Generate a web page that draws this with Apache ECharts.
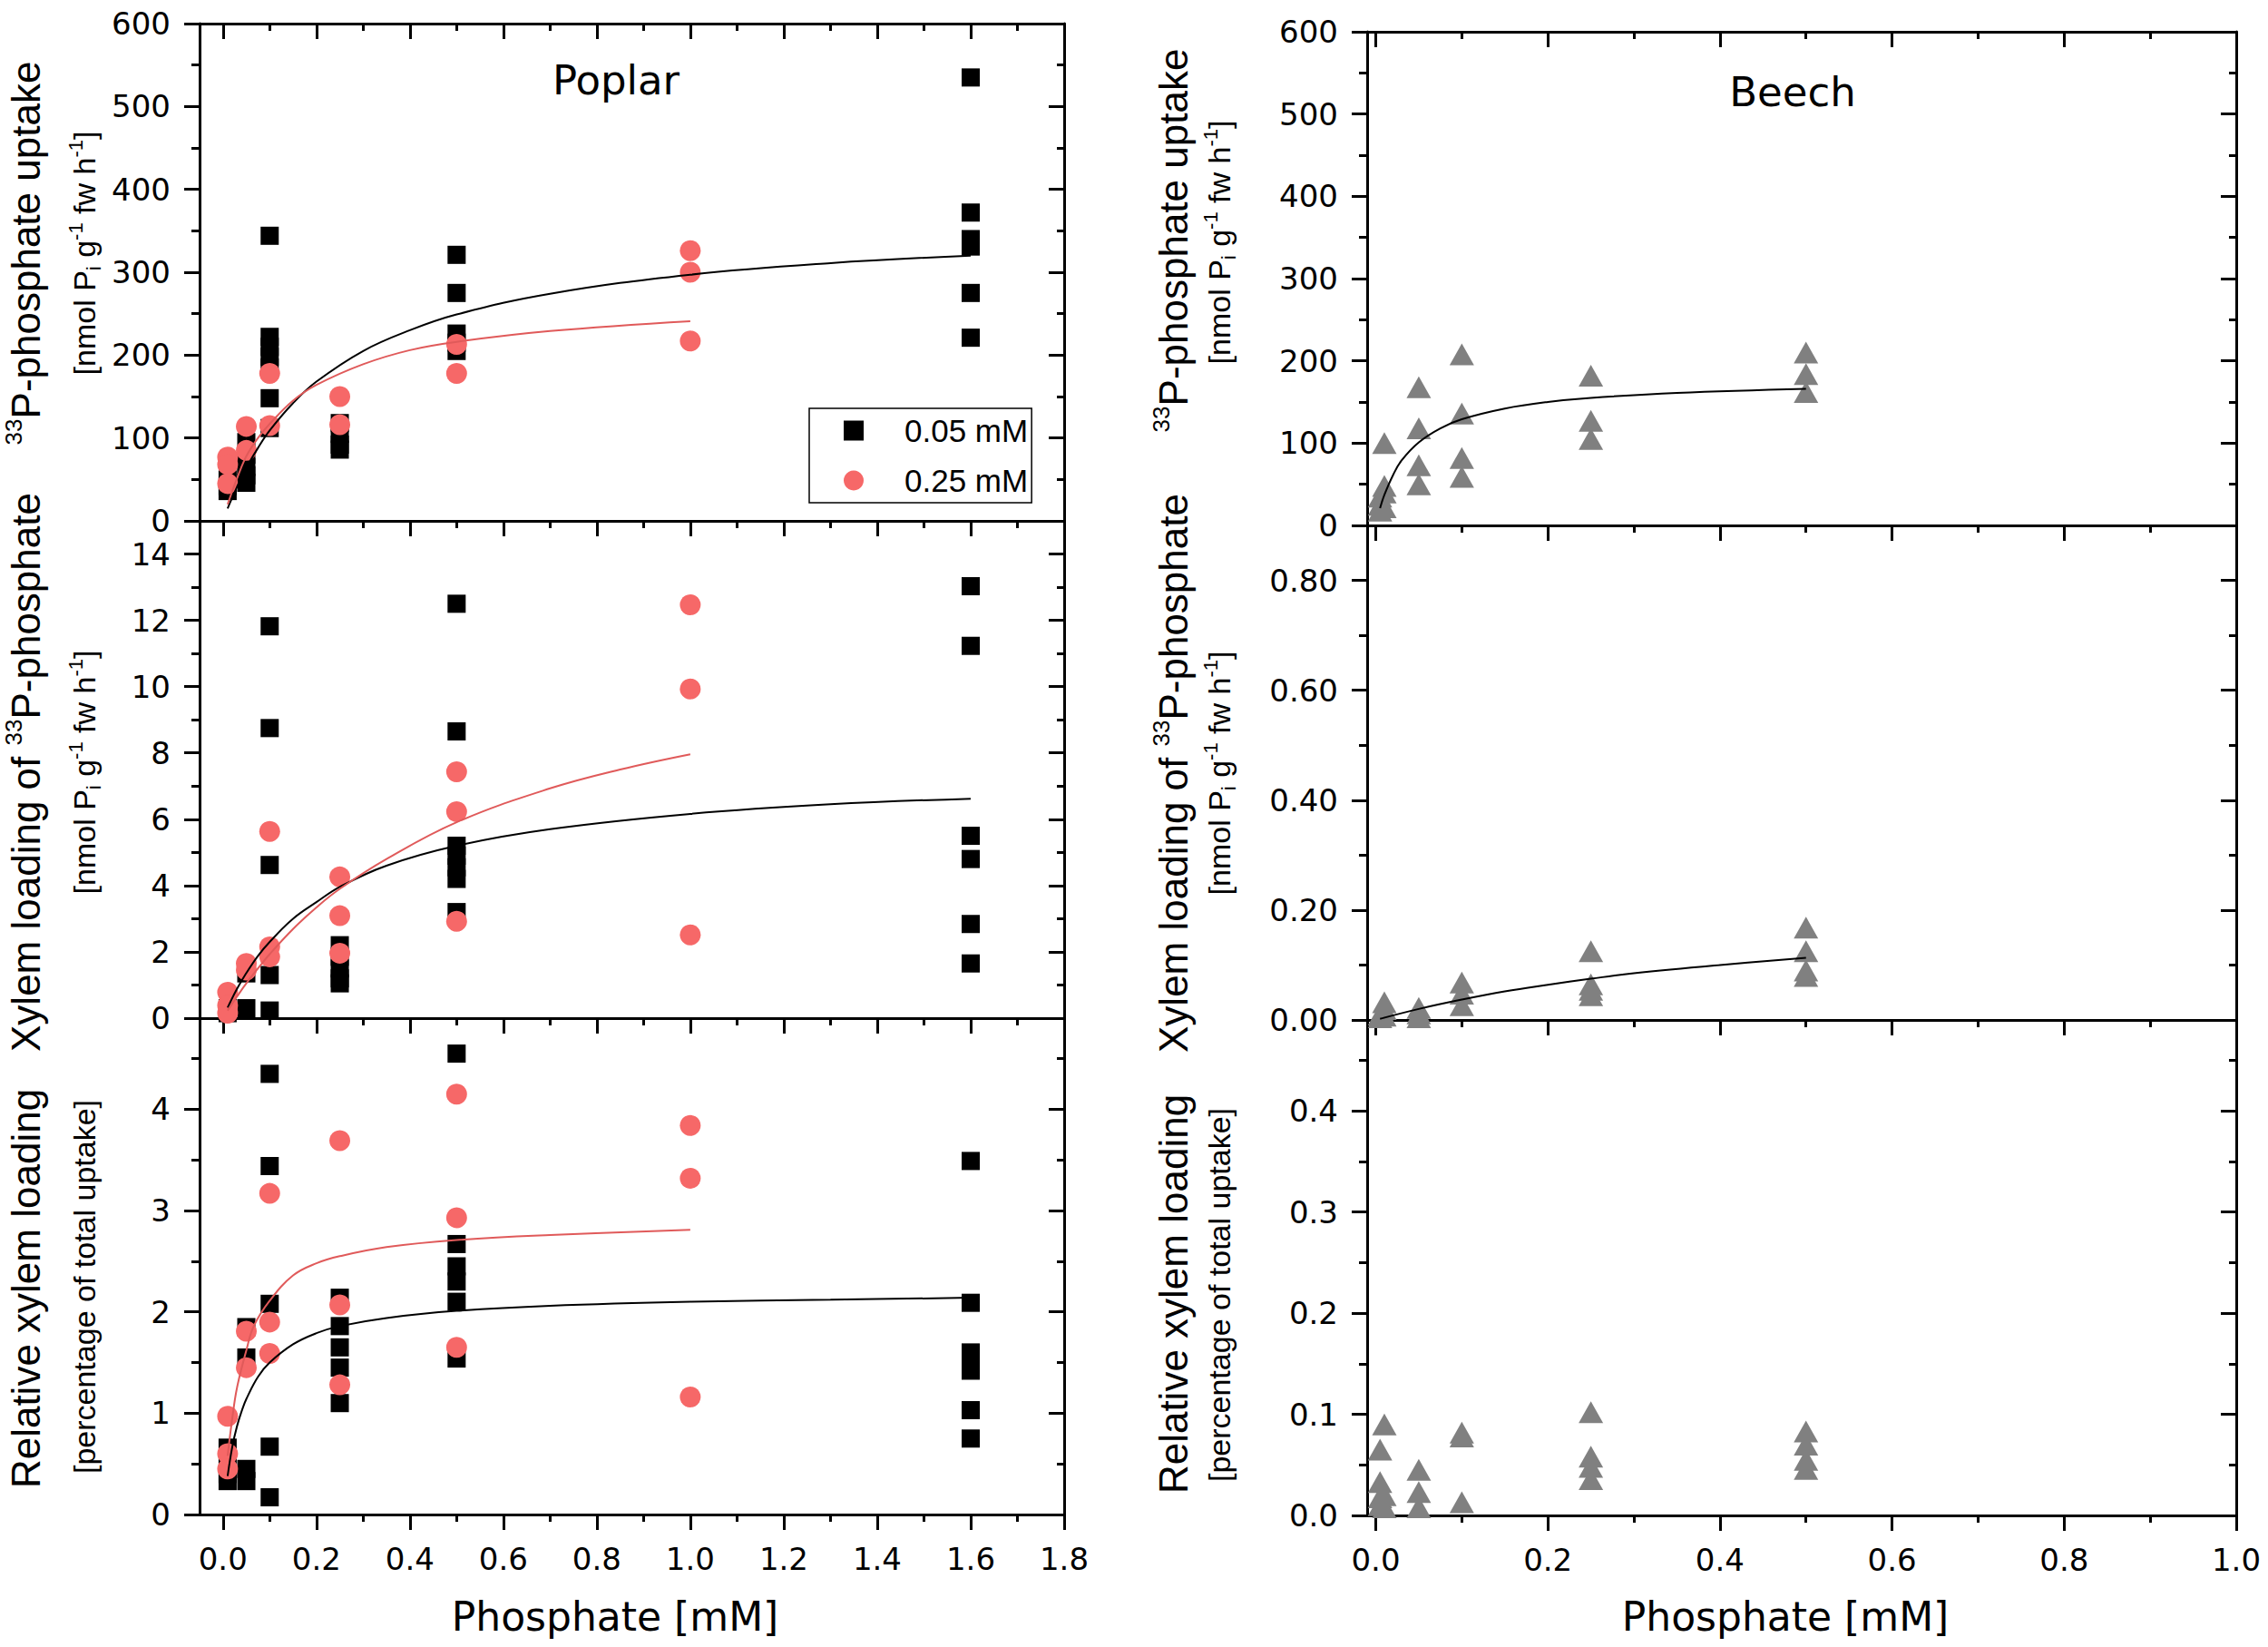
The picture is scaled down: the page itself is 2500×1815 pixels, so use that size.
<!DOCTYPE html>
<html>
<head>
<meta charset="utf-8">
<title>Phosphate uptake - Poplar / Beech</title>
<script src="https://cdn.jsdelivr.net/npm/echarts@6/dist/echarts.min.js"></script>
<style>
  html, body { margin: 0; padding: 0; background: #fff; }
  #chart { width: 2500px; height: 1815px; }
</style>
</head>
<body>
<div id="chart"></div>
<script>
// ---- data ----
// Poplar, 33P uptake
var uptakeLow = [[0.01,50],[0.01,42],[0.01,36],[0.05,95],[0.05,80],[0.05,65],[0.05,55],[0.05,46],
  [0.1,344],[0.1,222],[0.1,210],[0.1,198],[0.1,185],[0.1,148],[0.1,112],
  [0.25,118],[0.25,105],[0.25,92],[0.25,86],[0.5,321],[0.5,275],[0.5,226],[0.5,215],[0.5,205],
  [1.6,535],[1.6,372],[1.6,340],[1.6,331],[1.6,275],[1.6,221]];
var uptakeHigh = [[0.01,77],[0.01,68],[0.01,45],[0.05,114],[0.05,85],[0.1,178],[0.1,115],
  [0.25,150],[0.25,116],[0.5,213],[0.5,178],[1.0,326],[1.0,300],[1.0,217]];
var uptakeFitLow = [[0.01,15],[0.03,41],[0.05,64],[0.075,88],[0.1,109],[0.15,142],[0.2,168],[0.3,205],
  [0.4,230],[0.5,249],[0.7,274],[1.0,297],[1.3,311],[1.6,320]];
var uptakeFitHigh = [[0.01,20],[0.03,51],[0.05,78],[0.075,100],[0.1,117],[0.15,145],[0.2,164],[0.3,189],
  [0.4,206],[0.5,216],[0.7,229],[1.0,241]];

// Poplar, xylem loading
var xylemLow = [[0.01,0.3],[0.01,0.15],[0.05,1.35],[0.05,0.3],
  [0.1,11.82],[0.1,8.75],[0.1,4.62],[0.1,1.3],[0.1,0.23],
  [0.25,2.2],[0.25,1.85],[0.25,1.5],[0.25,1.2],[0.25,1.05],
  [0.5,12.5],[0.5,8.65],[0.5,5.2],[0.5,4.9],[0.5,4.55],[0.5,4.2],[0.5,3.2],
  [1.6,13.03],[1.6,11.23],[1.6,5.5],[1.6,4.8],[1.6,2.84],[1.6,1.65]];
var xylemHigh = [[0.01,0.78],[0.01,0.38],[0.01,0.15],[0.05,1.65],[0.05,1.45],
  [0.1,5.63],[0.1,2.15],[0.1,1.85],[0.25,4.26],[0.25,3.09],[0.25,1.96],
  [0.5,7.43],[0.5,6.23],[0.5,2.92],[1.0,12.47],[1.0,9.93],[1.0,2.51]];
var xylemFitLow = [[0.01,0.32],[0.03,0.88],[0.05,1.36],[0.075,1.88],[0.1,2.3],[0.15,3.0],[0.2,3.5],
  [0.25,3.96],[0.35,4.6],[0.5,5.2],[0.7,5.7],[1.0,6.16],[1.3,6.45],[1.6,6.62]];
var xylemFitHigh = [[0.01,0.23],[0.03,0.65],[0.05,1.05],[0.075,1.5],[0.1,1.93],[0.15,2.69],[0.2,3.34],
  [0.25,3.9],[0.35,4.8],[0.5,5.91],[0.7,6.93],[0.85,7.5],[1.0,7.96]];

// Poplar, relative xylem loading
var relLow = [[0.01,0.66],[0.01,0.5],[0.01,0.4],[0.01,0.33],[0.05,1.85],[0.05,1.55],[0.05,0.45],[0.05,0.33],
  [0.1,4.35],[0.1,3.44],[0.1,2.08],[0.1,0.67],[0.1,0.17],
  [0.25,2.14],[0.25,1.86],[0.25,1.65],[0.25,1.45],[0.25,1.1],
  [0.5,4.55],[0.5,2.67],[0.5,2.45],[0.5,2.3],[0.5,2.1],[0.5,1.54],
  [1.6,3.49],[1.6,2.09],[1.6,1.6],[1.6,1.5],[1.6,1.42],[1.6,1.03],[1.6,0.75]];
var relHigh = [[0.01,0.97],[0.01,0.6],[0.01,0.45],[0.05,1.81],[0.05,1.45],
  [0.1,3.17],[0.1,1.9],[0.1,1.59],[0.25,3.69],[0.25,2.07],[0.25,1.28],
  [0.5,4.15],[0.5,2.93],[0.5,1.65],[1.0,3.84],[1.0,3.32],[1.0,1.16]];
var relFitLow = [[0.01,0.38],[0.02,0.67],[0.03,0.87],[0.04,1.02],[0.05,1.14],[0.075,1.36],[0.1,1.5],
  [0.15,1.68],[0.2,1.79],[0.25,1.86],[0.35,1.94],[0.5,2.01],[0.7,2.06],[1.0,2.1],[1.3,2.12],[1.6,2.14]];
var relFitHigh = [[0.01,0.58],[0.02,0.95],[0.03,1.25],[0.05,1.62],[0.066,1.86],[0.1,2.11],[0.15,2.36],
  [0.2,2.48],[0.25,2.55],[0.35,2.64],[0.5,2.71],[0.7,2.76],[1.0,2.81]];

// Beech
var beechUptake = [[0.005,35],[0.005,25],[0.005,18],[0.01,100],[0.01,48],[0.01,40],[0.01,22],
  [0.05,168],[0.05,118],[0.05,73],[0.05,50],[0.1,208],[0.1,136],[0.1,82],[0.1,59],
  [0.25,182],[0.25,127],[0.25,105],[0.5,210],[0.5,184],[0.5,162]];
var beechUptakeFit = [[0.005,21],[0.01,37],[0.02,61],[0.03,79],[0.05,101],[0.075,118],[0.1,129],
  [0.15,142],[0.2,150],[0.25,155],[0.35,161],[0.5,166]];
var beechXylem = [[0.005,0.005],[0.005,0.01],[0.01,0.032],[0.01,0.02],[0.01,0.008],
  [0.05,0.022],[0.05,0.012],[0.05,0.005],[0.1,0.068],[0.1,0.048],[0.1,0.027],
  [0.25,0.125],[0.25,0.065],[0.25,0.055],[0.25,0.045],[0.5,0.168],[0.5,0.125],[0.5,0.09],[0.5,0.08]];
var beechXylemFit = [[0.005,0.002],[0.05,0.02],[0.1,0.037],[0.15,0.052],[0.2,0.064],[0.25,0.075],
  [0.3,0.085],[0.4,0.1],[0.5,0.113]];
var beechRel = [[0.005,0.065],[0.005,0.033],[0.005,0.018],[0.005,0.01],[0.01,0.09],[0.01,0.02],[0.01,0.008],
  [0.05,0.045],[0.05,0.023],[0.05,0.008],[0.1,0.082],[0.1,0.078],[0.1,0.013],
  [0.25,0.102],[0.25,0.058],[0.25,0.048],[0.25,0.036],[0.5,0.083],[0.5,0.07],[0.5,0.055],[0.5,0.046]];

// tick values
var poplarXMajor = [0, 0.2, 0.4, 0.6, 0.8, 1.0, 1.2, 1.4, 1.6, 1.8];
var poplarXMinor = [0.1, 0.3, 0.5, 0.7, 0.9, 1.1, 1.3, 1.5, 1.7];
var beechXMajor = [0, 0.2, 0.4, 0.6, 0.8, 1.0];
var beechXMinor = [0.1, 0.3, 0.5, 0.7, 0.9];
var uptakeYMajor = [0, 100, 200, 300, 400, 500, 600];
var uptakeYMinor = [50, 150, 250, 350, 450, 550];
var xylemYMajor = [0, 2, 4, 6, 8, 10, 12, 14];
var xylemYMinor = [1, 3, 5, 7, 9, 11, 13];
var relYMajor = [0, 1, 2, 3, 4];
var relYMinor = [0.5, 1.5, 2.5, 3.5, 4.5];
var beechXylemYMajor = [0, 0.2, 0.4, 0.6, 0.8];
var beechXylemYMinor = [0.1, 0.3, 0.5, 0.7];
var beechRelYMajor = [0, 0.1, 0.2, 0.3, 0.4];
var beechRelYMinor = [0.05, 0.15, 0.25, 0.35, 0.45];

var legendNames = ['0.05 mM', '0.25 mM'];

// ---- layout helpers ----
var FONT_N = 'DejaVu Sans, sans-serif';
var FONT_T = 'Liberation Sans, Arial, sans-serif';
var grids = [], xAxes = [], yAxes = [];

function axisCfg(gi, pos, rng, vals, len, inside, showLine, fmt) {
    return {
        gridIndex: gi, type: 'value', position: pos, min: rng[0], max: rng[1],
        axisLine: { show: showLine, onZero: false, lineStyle: { color: '#000', width: 3 } },
        axisTick: { show: true, inside: inside, length: len, customValues: vals,
                    lineStyle: { color: '#000', width: 3 } },
        axisLabel: fmt ? { show: true, customValues: vals, formatter: fmt, showMinLabel: true, showMaxLabel: true,
                           fontSize: 34, fontFamily: FONT_N, color: '#000', margin: 32 }
                       : { show: false },
        splitLine: { show: false }
    };
}

// adds one panel, returns the index of its main x/y axes
function panel(box, xr, xMaj, xMin, xFmt, yr, yMaj, yMin, yFmt) {
    var gi = grids.length;
    grids.push(box);
    var idx = xAxes.length;
    xAxes.push(axisCfg(gi, 'bottom', xr, xMaj, 17, false, true, xFmt));
    xAxes.push(axisCfg(gi, 'bottom', xr, xMin, 8, false, false, null));
    xAxes.push(axisCfg(gi, 'top', xr, xMaj, 17, true, true, null));
    xAxes.push(axisCfg(gi, 'top', xr, xMin, 8, true, false, null));
    yAxes.push(axisCfg(gi, 'left', yr, yMaj, 17, false, true, yFmt));
    yAxes.push(axisCfg(gi, 'left', yr, yMin, 9, false, false, null));
    yAxes.push(axisCfg(gi, 'right', yr, yMaj, 17, true, true, null));
    yAxes.push(axisCfg(gi, 'right', yr, yMin, 8, true, false, null));
    return idx;
}

var f0 = function (v) { return String(v); };
var f1 = function (v) { return v.toFixed(1); };
var f2 = function (v) { return v.toFixed(2); };

var PX = [-0.05, 1.8], BX = [-0.01, 1.0];
var pTop = panel({ left: 220, top: 26, width: 953, height: 548 }, PX, poplarXMajor, poplarXMinor, null,
                 [0, 600], uptakeYMajor, uptakeYMinor, f0);
var pMid = panel({ left: 220, top: 574, width: 953, height: 548 }, PX, poplarXMajor, poplarXMinor, null,
                 [0, 15], xylemYMajor, xylemYMinor, f0);
var pBot = panel({ left: 220, top: 1122, width: 953, height: 547 }, PX, poplarXMajor, poplarXMinor, f1,
                 [0, 4.9], relYMajor, relYMinor, f0);
var bTop = panel({ left: 1507, top: 35, width: 958, height: 544 }, BX, beechXMajor, beechXMinor, null,
                 [0, 600], uptakeYMajor, uptakeYMinor, f0);
var bMid = panel({ left: 1507, top: 579, width: 958, height: 545 }, BX, beechXMajor, beechXMinor, null,
                 [0, 0.9], beechXylemYMajor, beechXylemYMinor, f2);
var bBot = panel({ left: 1507, top: 1124, width: 958, height: 546 }, BX, beechXMajor, beechXMinor, f1,
                 [0, 0.49], beechRelYMajor, beechRelYMinor, f1);

var RED = '#F66868', REDLINE = '#E05A5A', GREY = '#808080';

function squares(ax, data) {
    return { type: 'scatter', name: legendNames[0], xAxisIndex: ax, yAxisIndex: ax, data: data,
             symbol: 'rect', symbolSize: 20, itemStyle: { color: '#000', opacity: 1 }, z: 2 };
}
function circles(ax, data) {
    return { type: 'scatter', name: legendNames[1], xAxisIndex: ax, yAxisIndex: ax, data: data,
             symbol: 'circle', symbolSize: 23, itemStyle: { color: RED, opacity: 1 }, z: 3 };
}
function triangles(ax, data) {
    return { type: 'scatter', name: 'Beech', xAxisIndex: ax, yAxisIndex: ax, data: data,
             symbol: 'triangle', symbolSize: [27, 24], itemStyle: { color: GREY, opacity: 1 }, z: 3 };
}
function fit(ax, data, color) {
    return { type: 'line', name: 'fit', xAxisIndex: ax, yAxisIndex: ax, data: data, smooth: 0.4,
             showSymbol: false, symbol: 'none',
             lineStyle: { color: color, width: 2 }, z: 4 };
}

var series = [
    squares(pTop, uptakeLow), circles(pTop, uptakeHigh), fit(pTop, uptakeFitLow, '#000'), fit(pTop, uptakeFitHigh, REDLINE),
    squares(pMid, xylemLow), circles(pMid, xylemHigh), fit(pMid, xylemFitLow, '#000'), fit(pMid, xylemFitHigh, REDLINE),
    squares(pBot, relLow), circles(pBot, relHigh), fit(pBot, relFitLow, '#000'), fit(pBot, relFitHigh, REDLINE),
    triangles(bTop, beechUptake), fit(bTop, beechUptakeFit, '#000'),
    triangles(bMid, beechXylem), fit(bMid, beechXylemFit, '#000'),
    triangles(bBot, beechRel)
];

// ---- texts ----
function richSet(supSize) {
    return {
        sup: { fontSize: supSize, fontFamily: FONT_T, fill: '#000', verticalAlign: 'top', lineHeight: supSize },
        sub: { fontSize: supSize, fontFamily: FONT_T, fill: '#000', verticalAlign: 'bottom', lineHeight: supSize }
    };
}
function vText(x, y, text, size, lh, supSize) {
    return { type: 'text', x: x, y: y, rotation: Math.PI / 2, z: 100,
             style: { text: text, fontSize: size, fontFamily: FONT_T, fill: '#000', lineHeight: lh,
                      align: 'center', verticalAlign: 'middle', textAlign: 'center', textVerticalAlign: 'middle',
                      rich: richSet(supSize) } };
}
function hText(x, y, text, size) {
    return { type: 'text', x: x, y: y, z: 100,
             style: { text: text, fontSize: size, fontFamily: FONT_N, fill: '#000',
                      align: 'center', verticalAlign: 'middle', textAlign: 'center', textVerticalAlign: 'middle' } };
}

var T_UPTAKE = '{sup|33}P-phosphate uptake';
var T_XYLEM = 'Xylem loading of {sup|33}P-phosphate';
var T_REL = 'Relative xylem loading';
var S_UNIT = '[nmol P{sub|i} g{sup|-1} fw h{sup|-1}]';
var S_PERC = '[percentage of total uptake]';

var texts = [
    vText(28, 279, T_UPTAKE, 44, 52, 26), vText(93, 279, S_UNIT, 34, 42, 22),
    vText(28, 851, T_XYLEM, 44, 52, 26), vText(93, 851, S_UNIT, 34, 42, 22),
    vText(28, 1420, T_REL, 44, 52, 26), vText(93, 1418, S_PERC, 34, 42, 22),
    vText(1293, 265, T_UPTAKE, 44, 52, 26), vText(1344, 267, S_UNIT, 34, 42, 22),
    vText(1293, 852, T_XYLEM, 44, 52, 26), vText(1344, 852, S_UNIT, 34, 42, 22),
    vText(1293, 1426, T_REL, 44, 52, 26), vText(1344, 1427, S_PERC, 34, 42, 22),
    hText(679, 88, 'Poplar', 45), hText(1976, 101, 'Beech', 45),
    hText(678, 1781, 'Phosphate [mM]', 44), hText(1968, 1781, 'Phosphate [mM]', 44)
];

var chart = echarts.init(document.getElementById('chart'), null, { renderer: 'svg' });
chart.setOption({
    animation: false,
    backgroundColor: '#fff',
    grid: grids,
    xAxis: xAxes,
    yAxis: yAxes,
    legend: {
        left: 892, top: 450, orient: 'vertical', selectedMode: false,
        data: [{ name: legendNames[0], icon: 'rect' }, { name: legendNames[1], icon: 'circle' }],
        itemWidth: 22, itemHeight: 22, itemGap: 20,
        borderColor: '#000', borderWidth: 1.5, padding: [7, 4, 7, 38],
        textStyle: { fontSize: 35, fontFamily: FONT_T, color: '#000', lineHeight: 35, padding: [0, 0, 0, 40] }
    },
    graphic: texts,
    series: series
});
</script>
</body>
</html>
